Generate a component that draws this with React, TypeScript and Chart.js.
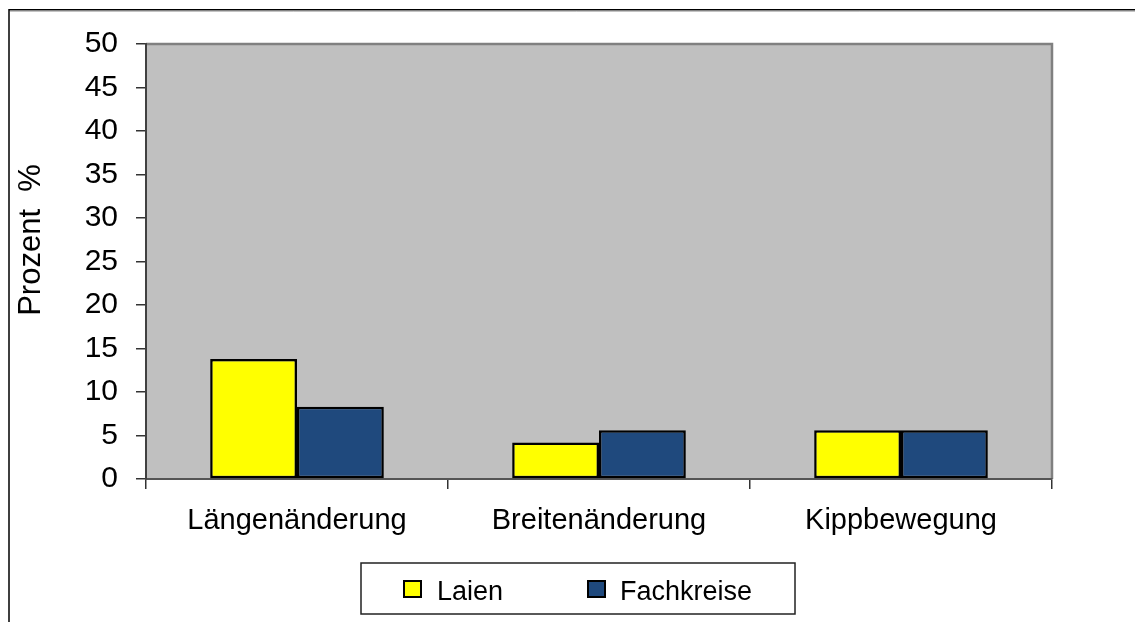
import React, { useEffect, useRef } from "react";
import { Chart, registerables } from "chart.js";

Chart.register(...registerables);

const categories = ["Längenänderung", "Breitenänderung", "Kippbewegung"];
const laien = [13.8, 4.2, 5.6];
const fachkreise = [8.3, 5.6, 5.6];
const seriesNames = ["Laien", "Fachkreise"];
const yTitle = "Prozent  %";
const yMin = 0;
const yMax = 50;
const yStep = 5;

const W = 1135;
const H = 614;

const framePlugin = {
  id: "frame",
  beforeDraw(chart: any) {
    const { ctx, chartArea } = chart;
    ctx.save();
    ctx.fillStyle = "#ffffff";
    ctx.fillRect(0, 0, chart.width, chart.height);
    // outer frame (left + top)
    ctx.strokeStyle = "#000";
    ctx.lineWidth = 1.5;
    ctx.beginPath();
    ctx.moveTo(1, chart.height);
    ctx.lineTo(1, 1.75);
    ctx.lineTo(chart.width, 1.75);
    ctx.stroke();
    ctx.strokeStyle = "#888";
    ctx.lineWidth = 1;
    ctx.beginPath();
    ctx.moveTo(2, 3);
    ctx.lineTo(chart.width, 3);
    ctx.stroke();
    // plot area background
    ctx.fillStyle = "#C0C0C0";
    ctx.fillRect(chartArea.left, chartArea.top, chartArea.right - chartArea.left, chartArea.bottom - chartArea.top);
    ctx.strokeStyle = "#808080";
    ctx.lineWidth = 2.5;
    ctx.beginPath();
    ctx.moveTo(chartArea.left, chartArea.top);
    ctx.lineTo(chartArea.right, chartArea.top);
    ctx.lineTo(chartArea.right, chartArea.bottom);
    ctx.stroke();
    ctx.restore();
  },
  afterDraw(chart: any) {
    const { ctx } = chart;
    ctx.save();
    // y title
    ctx.translate(32, 232);
    ctx.rotate(-Math.PI / 2);
    ctx.fillStyle = "#000";
    ctx.font = "31px 'Liberation Sans', Arial, sans-serif";
    ctx.textAlign = "center";
    ctx.textBaseline = "alphabetic";
    ctx.fillText(yTitle, 0, 0);
    ctx.restore();

    // legend
    ctx.save();
    const lx = 353, ly = 555, lw = 434, lh = 51;
    ctx.fillStyle = "#fff";
    ctx.fillRect(lx, ly, lw, lh);
    ctx.strokeStyle = "#222";
    ctx.lineWidth = 1.5;
    ctx.strokeRect(lx, ly, lw, lh);
    const items = [
      { bx: 396, tx: 429 },
      { bx: 580, tx: 612 },
    ];
    ctx.font = "27px 'Liberation Sans', Arial, sans-serif";
    ctx.textAlign = "left";
    ctx.textBaseline = "alphabetic";
    chart.data.datasets.forEach((ds: any, i: number) => {
      const it = items[i];
      ctx.fillStyle = ds.backgroundColor;
      ctx.fillRect(it.bx, 573, 17, 16);
      ctx.strokeStyle = "#000";
      ctx.lineWidth = 2;
      ctx.strokeRect(it.bx, 573, 17, 16);
      ctx.fillStyle = "#000";
      ctx.fillText(ds.label, it.tx, 591.5);
    });
    ctx.restore();
  },
};

export default function App() {
  const ref = useRef<HTMLCanvasElement | null>(null);
  useEffect(() => {
    if (!ref.current) return;
    const chart = new Chart(ref.current, {
      type: "bar",
      data: {
        labels: categories,
        datasets: [
          {
            label: seriesNames[0],
            data: laien,
            backgroundColor: "#FFFF00",
            borderColor: "#000",
            borderWidth: 2.5,
            borderSkipped: false,
            categoryPercentage: 0.575,
            barPercentage: 1,
          },
          {
            label: seriesNames[1],
            data: fachkreise,
            backgroundColor: "#1F497D",
            borderColor: "#000",
            borderWidth: 2.5,
            borderSkipped: false,
            categoryPercentage: 0.575,
            barPercentage: 1,
          },
        ],
      },
      options: {
        responsive: false,
        animation: false,
        devicePixelRatio: 1,
        layout: { padding: { left: 0, top: 36, right: 91, bottom: 0 } },
        plugins: {
          legend: { display: false },
          tooltip: { enabled: false },
          title: { display: false },
        },
        scales: {
          x: {
            afterFit: (s: any) => {
              s.height = 143;
            },
            grid: {
              offset: true,
              drawOnChartArea: false,
              drawTicks: true,
              tickLength: 10,
              color: "#333",
              lineWidth: 1.5,
            },
            border: { display: true, color: "#555", width: 2 },
            ticks: {
              color: "#000",
              padding: 15,
              font: { family: "'Liberation Sans', Arial, sans-serif", size: 29 },
              maxRotation: 0,
            },
          },
          y: {
            min: yMin,
            max: yMax,
            afterFit: (s: any) => {
              s.width = 138;
            },
            grid: {
              drawOnChartArea: false,
              drawTicks: true,
              tickLength: 10,
              color: "#333",
              lineWidth: 1.5,
            },
            border: { display: true, color: "#404040", width: 2 },
            ticks: {
              stepSize: yStep,
              color: "#000",
              padding: 18,
              font: { family: "'Liberation Sans', Arial, sans-serif", size: 30 },
            },
            title: { display: false },
          },
        },
      },
      plugins: [framePlugin],
    });
    return () => chart.destroy();
  }, []);
  return (
    <div style={{ width: W, height: H }}>
      <canvas ref={ref} width={W} height={H} style={{ display: "block", width: W, height: H }} />
    </div>
  );
}
